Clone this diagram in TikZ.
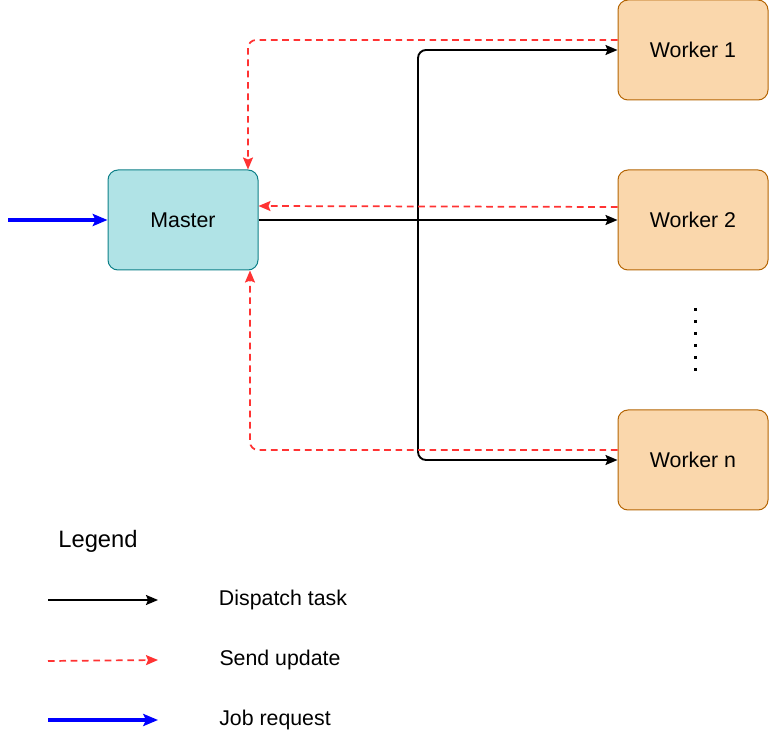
\documentclass[tikz,border=0pt]{standalone}
\usepackage{fontspec}
\setmainfont{Liberation Sans}
\usetikzlibrary{arrows.meta,calc}
\definecolor{masterfill}{HTML}{B0E3E6}
\definecolor{masterdraw}{HTML}{0E8088}
\definecolor{workerfill}{HTML}{FAD7AC}
\definecolor{workerdraw}{HTML}{B46504}
\definecolor{upd}{HTML}{FF3333}
\definecolor{job}{HTML}{0000FF}
\tikzset{
  box/.style={rounded corners=7.5pt, minimum width=112.5pt, minimum height=75pt, inner sep=0pt, font=\fontsize{16}{19}\selectfont, line width=0.75pt},
  masterbox/.style={box, fill=masterfill, draw=masterdraw},
  workerbox/.style={box, fill=workerfill, draw=workerdraw},
  dispatch/.style={draw=black, line width=1.4pt, rounded corners=6pt, -{Stealth[length=9pt,width=7.5pt,inset=1.5pt]}},
  update/.style={draw=upd, line width=1.3pt, dash pattern=on 5pt off 3.5pt, rounded corners=6pt, -{Stealth[length=9pt,width=7.5pt,inset=1.5pt]}},
  jobreq/.style={draw=job, line width=2.4pt, -{Stealth[length=11pt,width=9pt,inset=2pt]}},
  lbl/.style={font=\fontsize{16}{19}\selectfont, inner sep=0pt},
}
\begin{document}
\begin{tikzpicture}[x=0.75pt,y=-0.75pt]
\useasboundingbox (0,0) rectangle (769,734);
\node[masterbox] (master) at (183,220) {Master};
\node[workerbox] (w1) at (693,50) {Worker 1};
\node[workerbox] (w2) at (693,220) {Worker 2};
\node[workerbox] (wn) at (693,460) {Worker n};
\coordinate (src) at (8,220);
\coordinate (j) at (418,220);
% job request
\draw[jobreq] (src) -- (master.west);
% dispatch
\draw[dispatch] (master.east) -- (w2.west);
\draw[dispatch] (j) |- (w1.west);
\draw[dispatch] (j) |- (wn.west);
% updates
\draw[update] ([yshift=7.5pt]w1.west) -| ([xshift=48.75pt]master.north);
\draw[update] ([yshift=9.75pt]w2.west) -- ([yshift=10.5pt]master.east);
\draw[update] ([yshift=7.5pt]wn.west) -| ([xshift=50.25pt]master.south);
% dots
\draw[line width=2.25pt, dash pattern=on 2.25pt off 6.75pt] (695,307.9) -- (695,372);
% legend
\node[font=\fontsize{17.8}{21}\selectfont, inner sep=0pt] (leg) at (98,541) {Legend};
\coordinate (la1) at (48,600); \coordinate (lb1) at (158,600);
\coordinate (la2) at (48,661); \coordinate (lb2) at (158,660);
\coordinate (la3) at (48,720); \coordinate (lb3) at (158,720);
\draw[dispatch] (la1) -- (lb1);
\draw[update] (la2) -- (lb2);
\draw[jobreq] (la3) -- (lb3);
\node[lbl] (t1) at (283,600) {Dispatch task};
\node[lbl] (t2) at (280,660) {Send update};
\node[lbl] (t3) at (275,720) {Job request};
\end{tikzpicture}
\end{document}
